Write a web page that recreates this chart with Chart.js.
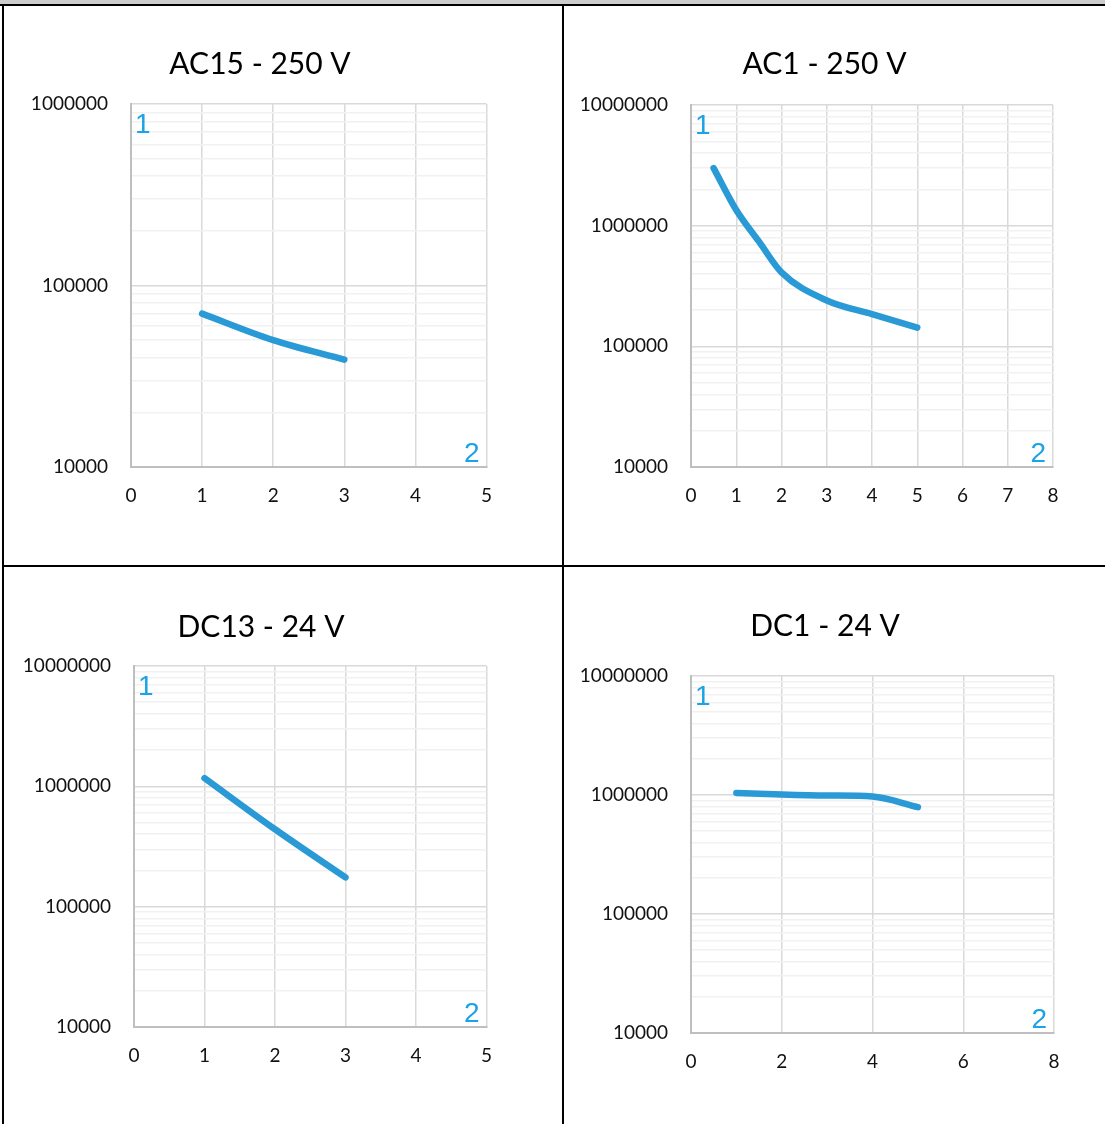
<!DOCTYPE html>
<html>
<head>
<meta charset="utf-8">
<title>Electrical life curves</title>
<script src="https://cdn.jsdelivr.net/npm/chart.js@4.4.1/dist/chart.umd.min.js"></script>
<style>
    body { margin: 0; background: #ffffff; }
    .sheet { position: relative; width: 1105px; height: 1124px; overflow: hidden; background: #ffffff; }
    .headerStrip { position: absolute; left: 0; top: 0; width: 1105px; height: 4px; background: #cdcdcd; }
    .rule { position: absolute; background: #000000; }
    canvas { position: absolute; }
</style>
</head>
<body>
<div class="sheet">
    <div class="headerStrip"></div>
    <div class="rule" style="left:0; top:4px; width:1105px; height:2px;"></div>
    <div class="rule" style="left:2px; top:4px; width:2px; height:1120px;"></div>
    <div class="rule" style="left:562px; top:4px; width:2px; height:1120px;"></div>
    <div class="rule" style="left:2px; top:565px; width:1103px; height:2px;"></div>

    <canvas id="chartAc15" width="506" height="512" style="left:3px; top:5px;"></canvas>
    <canvas id="chartAc1" width="514" height="512" style="left:564px; top:5px;"></canvas>
    <canvas id="chartDc13" width="506" height="510" style="left:3px; top:567px;"></canvas>
    <canvas id="chartDc1" width="515" height="516" style="left:564px; top:567px;"></canvas>
</div>

<script>
// Data (x = current, y = operations)
const ac15X = [1, 2, 3];
const ac15Y = [70000, 50000, 39000];

const ac1X = [0.5, 1, 1.5, 2, 3, 4, 5];
const ac1Y = [3000000, 1350000, 740000, 410000, 240000, 185000, 143000];

const dc13X = [1, 2, 3];
const dc13Y = [1170000, 440000, 175000];

const dc1X = [1, 2, 3, 4, 5];
const dc1Y = [1040000, 1010000, 990000, 970000, 790000];

// Axis ranges and titles
const chartTitles = ['AC15 - 250 V', 'AC1 - 250 V', 'DC13 - 24 V', 'DC1 - 24 V'];
const xMaxValues = [5, 8, 5, 8];
const xStepValues = [1, 1, 1, 2];
const yMinValues = [10000, 10000, 10000, 10000];
const yMaxValues = [1000000, 10000000, 10000000, 10000000];

const lineColor = '#2a9ad6';
const markColor = '#1aa3e6';
const fontName = 'Lato, "Open Sans", sans-serif';

// Check whether a value is an exact power of ten
function isDecade(value) {
    const exp = Math.log10(value);
    return Math.abs(exp - Math.round(exp)) < 1e-9;
}

// Build 1..9 x 10^n tick values between min and max (Excel-style minor grid)
function buildLogTicks(min, max) {
    let ticks = [];
    for (let base = min; base < max; base *= 10) {
        for (let m = 1; m <= 9; m++) {
            ticks.push({ value: m * base });
        }
    }
    ticks.push({ value: max });
    return ticks;
}

// Plugin that writes the chart heading at a fixed spot (Excel centres it on the chart object, not the plot)
const headingText = {
    id: 'headingText',
    afterDraw(chart, args, opts) {
        const ctx = chart.ctx;
        ctx.save();
        ctx.fillStyle = '#000000';
        ctx.font = '30px ' + fontName;
        ctx.textAlign = 'center';
        ctx.textBaseline = 'middle';
        ctx.fillText(opts.text, opts.x, opts.y);
        ctx.restore();
    }
};

// Plugin that writes the blue "1" and "2" axis markers inside the plot area
const cornerMarks = {
    id: 'cornerMarks',
    afterDraw(chart) {
        const ctx = chart.ctx;
        const area = chart.chartArea;
        ctx.save();
        ctx.fillStyle = markColor;
        ctx.font = '28px "Liberation Sans", Arial, sans-serif';
        ctx.textBaseline = 'alphabetic';
        ctx.textAlign = 'left';
        ctx.fillText('1', area.left + 4, area.top + 29);
        ctx.textAlign = 'right';
        ctx.fillText('2', area.right - 7, area.bottom - 5);
        ctx.restore();
    }
};

// Create one log-scale life curve chart
function makeLifeChart(canvasId, index, xs, ys, layout) {
    try {
        const points = xs.map((x, i) => ({ x: x, y: ys[i] }));
        const yMin = yMinValues[index];
        const yMax = yMaxValues[index];

        return new Chart(document.getElementById(canvasId), {
            type: 'scatter',
            data: {
                datasets: [{
                    data: points,
                    showLine: true,
                    borderColor: lineColor,
                    backgroundColor: lineColor,
                    borderWidth: 6.5,
                    borderCapStyle: 'round',
                    borderJoinStyle: 'round',
                    cubicInterpolationMode: 'monotone',
                    pointRadius: 0,
                    pointHoverRadius: 0
                }]
            },
            options: {
                responsive: false,
                maintainAspectRatio: false,
                animation: false,
                events: [],
                layout: {
                    padding: { left: 0, right: layout.padRight, top: layout.padTop, bottom: 0 }
                },
                plugins: {
                    legend: { display: false },
                    tooltip: { enabled: false },
                    title: { display: false },
                    headingText: { text: chartTitles[index], x: layout.titleX, y: layout.titleY }
                },
                scales: {
                    x: {
                        type: 'linear',
                        min: 0,
                        max: xMaxValues[index],
                        ticks: {
                            stepSize: xStepValues[index],
                            padding: 17,
                            color: '#111111',
                            font: { family: fontName, size: 19 },
                            maxRotation: 0
                        },
                        grid: { color: '#d9d9d9', lineWidth: 1.5, drawTicks: false },
                        border: { color: '#bfbfbf', width: 2 },
                        afterFit: (scale) => { scale.height = 50; }
                    },
                    y: {
                        type: 'logarithmic',
                        min: yMin,
                        max: yMax,
                        afterBuildTicks: (scale) => { scale.ticks = buildLogTicks(yMin, yMax); },
                        ticks: {
                            autoSkip: false,
                            padding: 23,
                            color: '#111111',
                            font: { family: fontName, size: 19 },
                            callback: (value) => isDecade(value) ? String(Math.round(value)) : ''
                        },
                        grid: {
                            color: (ctx) => (ctx.tick && isDecade(ctx.tick.value)) ? '#d9d9d9' : '#f1f1f1',
                            lineWidth: 1.5,
                            drawTicks: false
                        },
                        border: { color: '#bfbfbf', width: 2 },
                        afterFit: (scale) => { scale.width = layout.yWidth; }
                    }
                }
            },
            plugins: [cornerMarks, headingText]
        });
    } catch (e) {
        console.error(e);
    }
}

makeLifeChart('chartAc15', 0, ac15X, ac15Y, { yWidth: 128, padRight: 20, padTop: 99, titleX: 257, titleY: 59 });
makeLifeChart('chartAc1', 1, ac1X, ac1Y, { yWidth: 127, padRight: 25, padTop: 100, titleX: 260.5, titleY: 59 });
makeLifeChart('chartDc13', 2, dc13X, dc13Y, { yWidth: 131, padRight: 20, padTop: 99, titleX: 258, titleY: 60 });
makeLifeChart('chartDc1', 3, dc1X, dc1Y, { yWidth: 127, padRight: 25, padTop: 109, titleX: 261, titleY: 59 });
</script>
</body>
</html>
